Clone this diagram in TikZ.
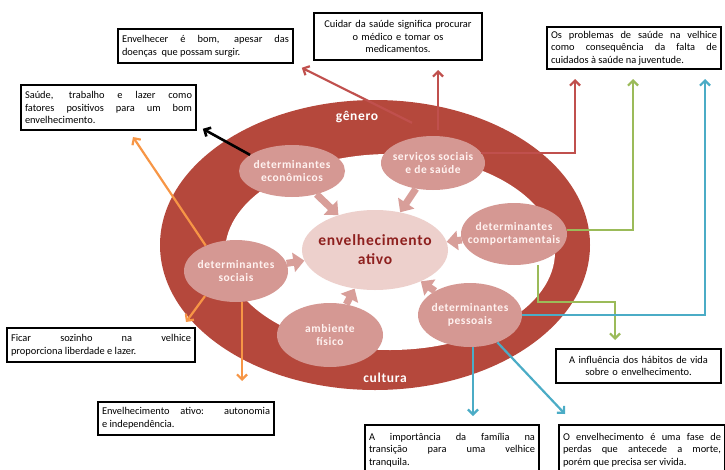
\documentclass[tikz,border=0pt]{standalone}
\usepackage{fontspec}
\setmainfont{Carlito}
\newfontfamily\detfont[LetterSpace=5]{Carlito}
\usetikzlibrary{shapes.geometric,arrows.meta}
\hyphenpenalty=10000\relax
\exhyphenpenalty=10000\relax
\definecolor{ringred}{RGB}{181,72,60}
\definecolor{detpink}{RGB}{213,152,147}
\definecolor{ctrpink}{RGB}{237,208,204}
\definecolor{arrpink}{RGB}{216,158,153}
\definecolor{dettext}{RGB}{255,242,240}
\definecolor{ctrtext}{RGB}{142,32,30}
\definecolor{conred}{RGB}{192,80,77}
\definecolor{congreen}{RGB}{155,187,89}
\definecolor{conblue}{RGB}{75,172,198}
\definecolor{conorange}{RGB}{247,150,70}
\begin{document}
\begin{tikzpicture}[x=1pt,y=-1pt,
  det/.style={ellipse,fill=detpink,inner xsep=-16pt,inner ysep=-10pt,text=dettext,align=center,
    font=\detfont\fontsize{11.5}{13}\selectfont\bfseries},
  ctrnode/.style={ellipse,fill=ctrpink,inner xsep=-20pt,inner ysep=-10pt,text=ctrtext,align=center,
    font=\detfont\fontsize{15.5}{19}\selectfont\bfseries},
  ringlabel/.style={text=white,font=\detfont\fontsize{13.5}{15}\selectfont\bfseries},
  blockarrow/.style={draw=arrpink,line width=7pt,-{Triangle[length=11pt,width=19pt]}},
  box/.style={draw=black,line width=1.6pt,fill=white,inner sep=4pt,
    font=\fontsize{10.4}{12.6}\selectfont,align=justify},
  con/.style={line width=2.2pt,-{Straight Barb[length=5pt,width=10pt]}},
]
\useasboundingbox (0,0) rectangle (725,469);
% ring
\fill[ringred] (375,245) ellipse [x radius=215, y radius=145];
\fill[white] (390,252) ellipse [x radius=165, y radius=98];
\node[ringlabel] (gen) at (357,117) {gênero};
\node[ringlabel] (cult) at (385,378) {cultura};

% nodes
\node[ctrnode,minimum width=146,minimum height=80] (ctr) at (375,250) {envelhecimento\\ativo};
\node[det,minimum width=106,minimum height=52] (econ) at (292,171) {determinantes\\econômicos};
\node[det,minimum width=104,minimum height=54] (serv) at (433,163) {serviços sociais\\e de saúde};
\node[det,minimum width=106,minimum height=62] (comp) at (514,234) {determinantes\\comportamentais};
\node[det,minimum width=104,minimum height=62] (soc) at (236,271) {determinantes\\sociais};
\node[det,minimum width=106,minimum height=64] (amb) at (330,335) {ambiente\\físico};
\node[det,minimum width=104,minimum height=64] (pess) at (470,315) {determinantes\\pessoais};

% inner arrows
\draw[blockarrow] (econ) -- (ctr);
\draw[blockarrow] (serv) -- (ctr);
\draw[blockarrow] (comp) -- (ctr);
\draw[blockarrow] (pess) -- (ctr);
\draw[blockarrow] (amb) -- (ctr);
\draw[blockarrow] (soc) -- (ctr);

% boxes
\node[box,text width=167,minimum height=34] (b1) at (205.5,46)
  {Envelhecer é bom, apesar das\linebreak doenças\ \ que possam surgir.};
\node[box,text width=160,minimum height=47,align=center] (b2) at (398,36.5)
  {Cuidar da saúde significa procurar\\o médico e tomar os\\medicamentos.};
\node[box,text width=166,minimum height=42] (b3) at (634,48)
  {Os problemas de saúde na velhice\linebreak como consequência da falta de\linebreak cuidados à saúde na juventude.};
\node[box,text width=167,minimum height=45] (b4) at (108.5,107.5)
  {Saúde, trabalho e lazer como\linebreak fatores positivos para um bom\linebreak envelhecimento.};
\node[box,text width=180,minimum height=34] (b5) at (101,345)
  {Ficar sozinho na velhice\linebreak proporciona liberdade e lazer.};
\node[box,text width=168,minimum height=33] (b6) at (186,418.5)
  {Envelhecimento ativo: autonomia\linebreak e independência.};
\node[box,text width=166,minimum height=50] (b7) at (452,450)
  {A importância da família na\linebreak transição para uma velhice\linebreak tranquila.};
\node[box,text width=158,minimum height=50] (b8) at (642,450)
  {O envelhecimento é uma fase de\linebreak perdas que antecede a morte,\linebreak porém que precisa ser vivida.};
\node[box,text width=157,minimum height=34,align=center] (b9) at (638.5,366)
  {A influência dos hábitos de vida\\sobre o envelhecimento.};

% free ends
\coordinate (o1) at (133,137);
\coordinate (o2) at (186,322);
\coordinate (o3) at (243,381);
\coordinate (r2) at (438,70);
\coordinate (r3) at (575,79);
\coordinate (g1) at (633,79);
\coordinate (g2a) at (538,302);
\coordinate (g2) at (615,340);
\coordinate (bl1) at (705,79);
\coordinate (bl2) at (473,416);
\coordinate (bl3) at (565,414);

% connectors
\draw[con,black,line width=2.6pt] (econ.159) -- ([shift={(6,-2)}]b4.south east);
\draw[con,conorange] (soc.140) -- (o1);
\draw[con,conorange] (soc.219) -- (o2);
\draw[con,conorange] (soc.281) -- (soc.281 |- o3);
\draw[con,conred] ([shift={(-21,-13)}]serv.north) -- ([shift={(8,4)}]b1.south east);
\draw[con,conred,shorten <=6pt] (r2 |- serv.north) -- (r2);
\draw[con,conred] (serv.12) -| (r3);
\draw[con,congreen] (comp.4) -| (g1);
\draw[con,congreen] (g2a |- comp.south) -- (g2a) -| (g2);
\draw[con,conblue] (pess.east) -| (bl1);
\draw[con,conblue] (bl2 |- pess.south) -- (bl2);
\draw[con,conblue] (pess.-45) -- (bl3);
\end{tikzpicture}
\end{document}
